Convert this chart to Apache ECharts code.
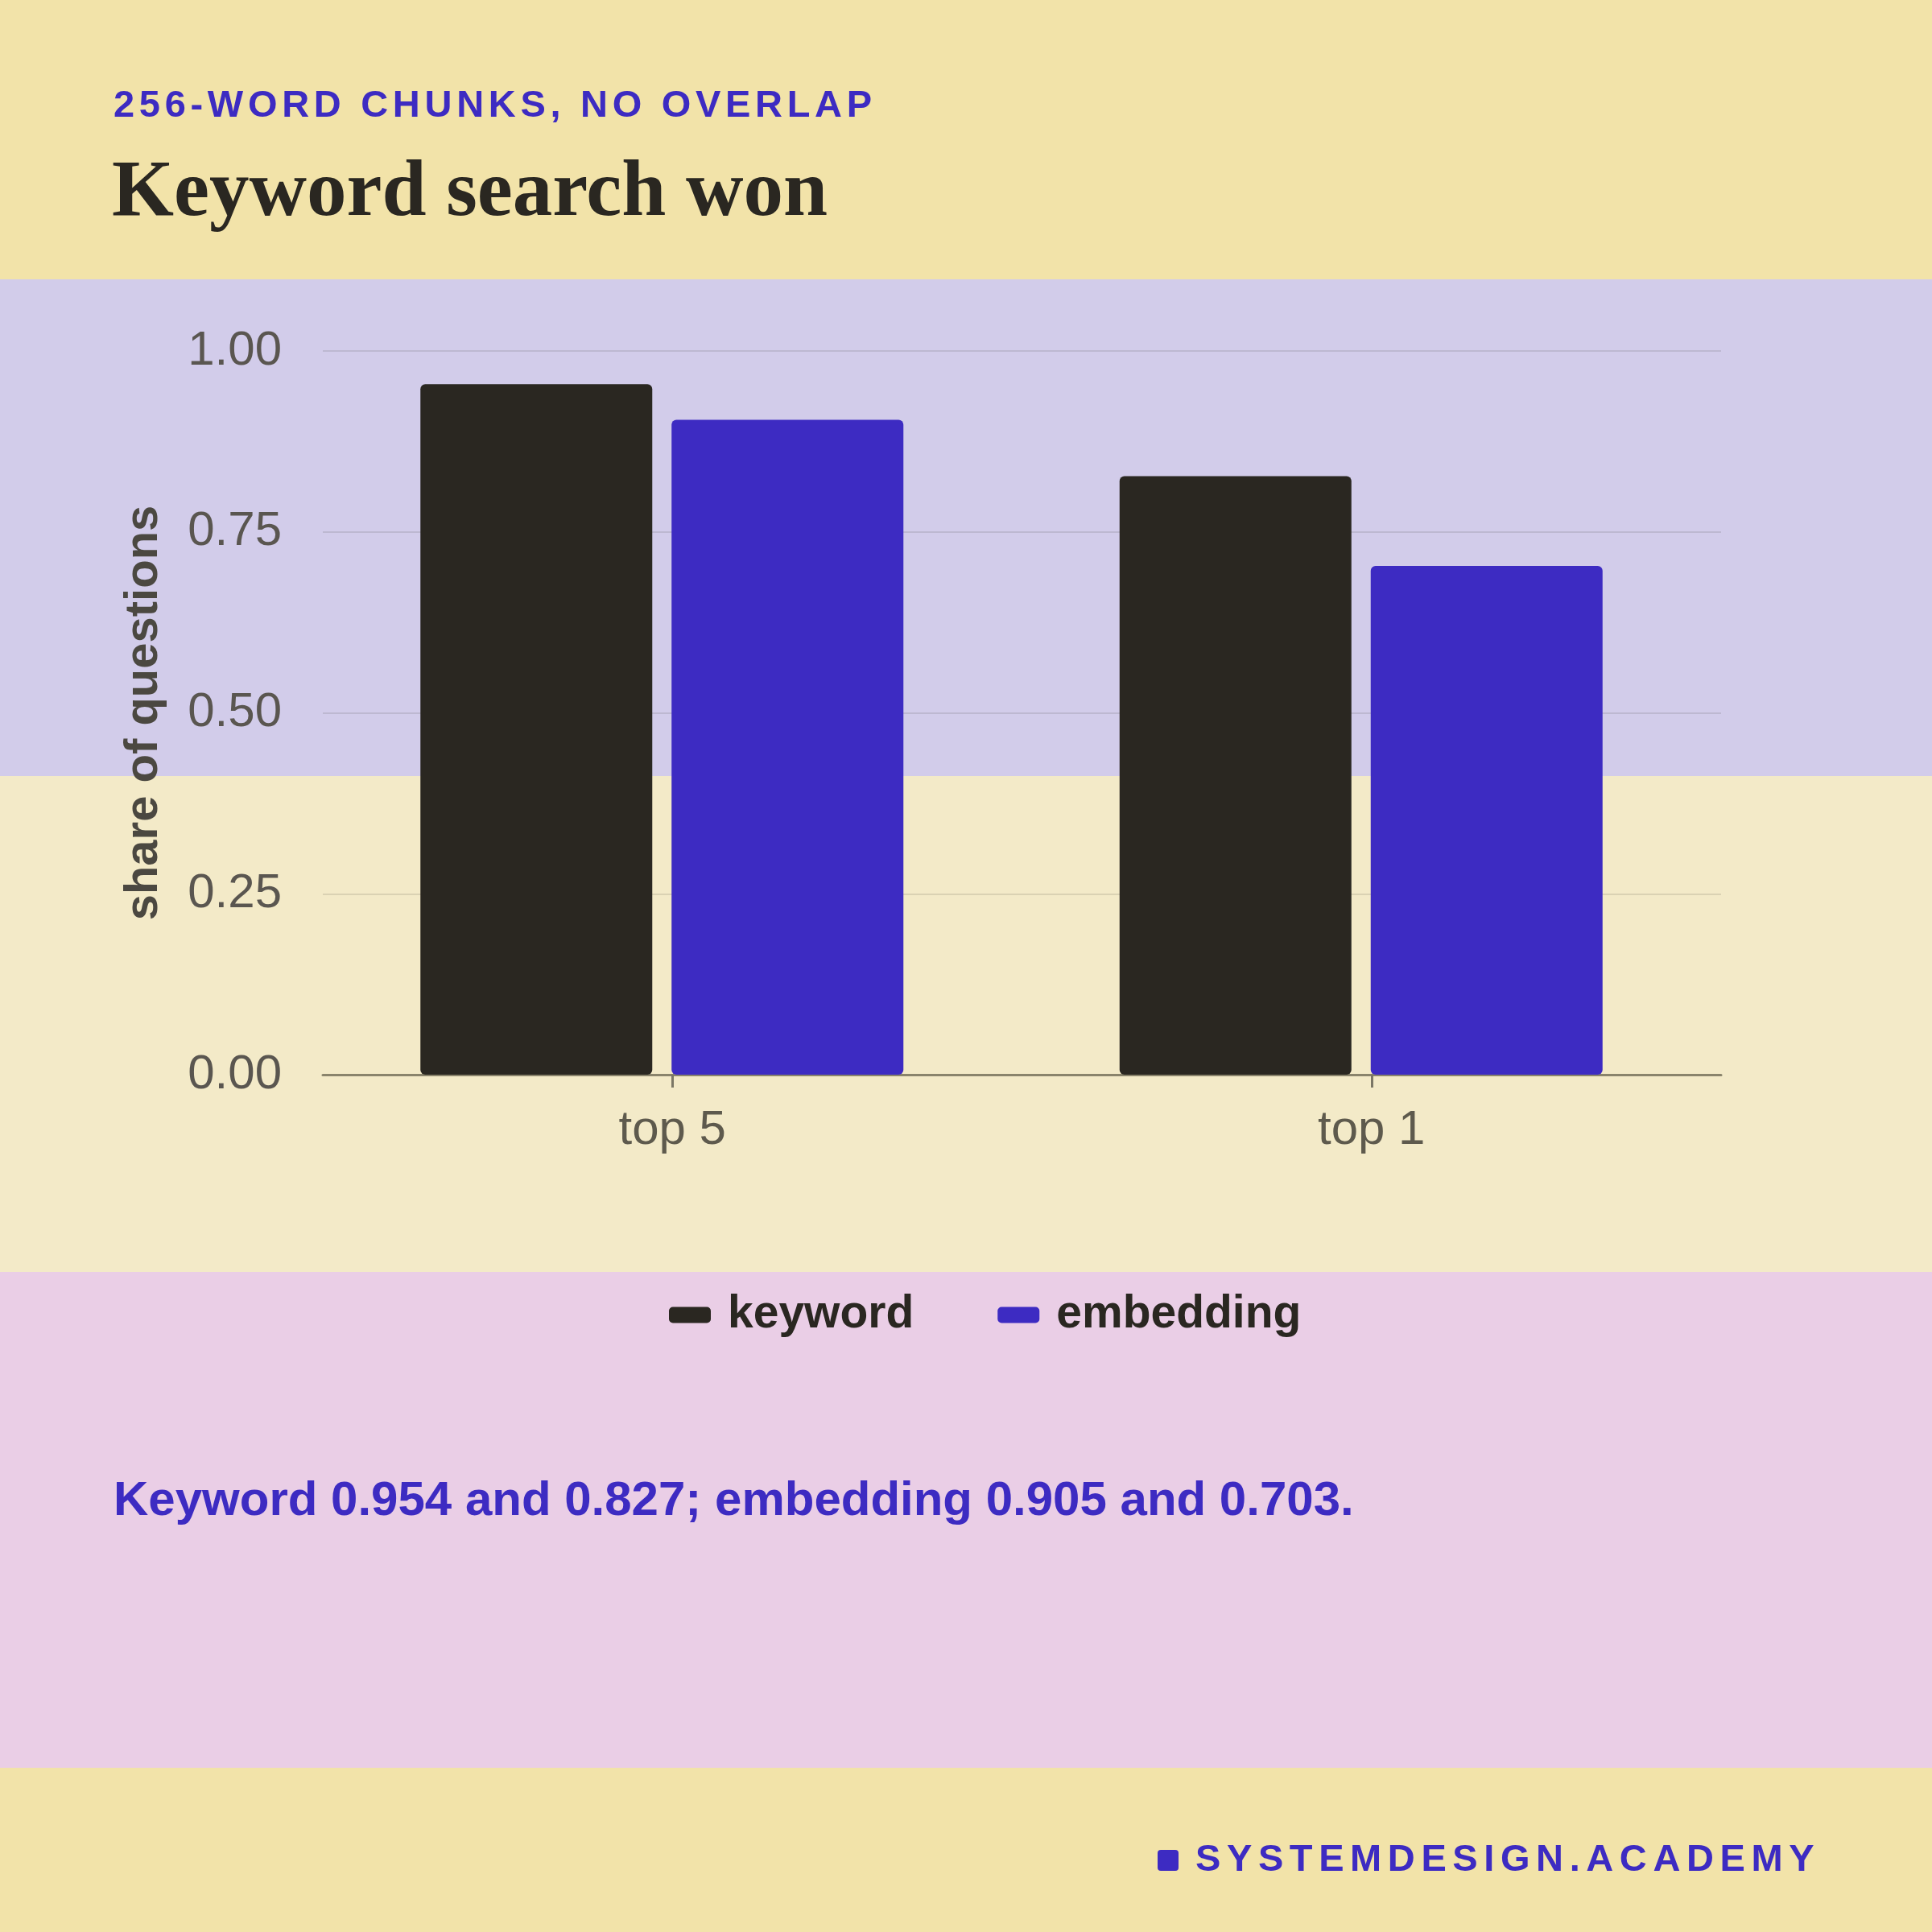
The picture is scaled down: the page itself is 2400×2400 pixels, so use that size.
<!DOCTYPE html>
<html>
<head>
<meta charset="utf-8">
<title>Keyword search won</title>
<script src="https://cdn.jsdelivr.net/npm/echarts@6/dist/echarts.min.js"></script>
<style>
  html, body { margin: 0; padding: 0; background: #f2e3a9; }
  #main { width: 2400px; height: 2400px; }
</style>
</head>
<body>
<div id="main"></div>
<script>
// data
var categories = ['top 5', 'top 1'];
var keywordValues = [0.954, 0.827];
var embeddingValues = [0.905, 0.703];
var seriesNames = ['keyword', 'embedding'];
var yMin = 0, yMax = 1, yStep = 0.25;

// texts
var kicker = '256-WORD CHUNKS, NO OVERLAP';
var headline = 'Keyword search won';
var note = 'Keyword 0.954 and 0.827; embedding 0.905 and 0.703.';
var footer = 'SYSTEMDESIGN.ACADEMY';

var ink = '#2a2721';
var blue = '#3d2bc2';

// tracked caps for the kicker and the footer: draw them glyph by glyph
// with extra space, all other text goes straight through
var tracking = {};
tracking[kicker] = 5.7;
tracking[footer] = 7.6;
var baseFillText = CanvasRenderingContext2D.prototype.fillText;
CanvasRenderingContext2D.prototype.fillText = function (t, x, y, w) {
  var gap = tracking[t];
  if (!gap || this.textAlign !== 'left') {
    return w === undefined ? baseFillText.call(this, t, x, y) : baseFillText.call(this, t, x, y, w);
  }
  for (var i = 0; i < t.length; i++) {
    baseFillText.call(this, t[i], x, y);
    x += this.measureText(t[i]).width + gap;
  }
};

var chart = echarts.init(document.getElementById('main'));

function band(y, h, color) {
  return { type: 'rect', z: -10, silent: true, shape: { x: 0, y: y, width: 2400, height: h }, style: { fill: color } };
}
function label(text, x, y, size, weight, family, color) {
  return {
    type: 'text', z: 10, silent: true,
    style: {
      text: text, x: x, y: y, fill: color,
      fontSize: size, fontWeight: weight, fontFamily: family,
      align: 'left', verticalAlign: 'middle'
    }
  };
}

var option = {
  animation: false,
  backgroundColor: '#f2e3a9',
  textStyle: { fontFamily: 'Liberation Sans' },
  graphic: {
    elements: [
      band(347, 617, '#d2ccea'),
      band(964, 616, '#f3eac8'),
      band(1580, 616, '#eacee6'),
      label(kicker, 141, 132, 47, 'bold', 'Liberation Sans', blue),
      label(headline, 139, 241, 99, 'bold', 'Liberation Serif', ink),
      label(note, 141, 1865, 60, 'bold', 'Liberation Sans', blue),
      {
        type: 'rect', z: 10, silent: true,
        shape: { x: 1438, y: 2298, width: 26, height: 26, r: 4 },
        style: { fill: blue }
      },
      label(footer, 1485, 2311, 47, 'bold', 'Liberation Sans', blue)
    ]
  },
  legend: {
    data: seriesNames,
    left: 831,
    top: 1605,
    padding: 0,
    icon: 'roundRect',
    itemWidth: 52,
    itemHeight: 20,
    itemGap: 104,
    textStyle: { fontSize: 57, fontWeight: 'bold', color: ink, padding: [0, 0, 16, 16] }
  },
  grid: { left: 401, right: 262, top: 436, bottom: 1065, outerBoundsMode: 'none' },
  xAxis: {
    type: 'category',
    data: categories,
    axisLine: { show: true, lineStyle: { color: '#8a846c', width: 3 } },
    axisTick: { show: true, alignWithLabel: true, interval: 0, length: 16, lineStyle: { color: '#7b7766', width: 3 } },
    axisLabel: { fontSize: 60, color: '#5e5a4d', margin: 39 },
    splitLine: { show: false }
  },
  yAxis: {
    type: 'value',
    min: yMin,
    max: yMax,
    interval: yStep,
    name: 'share of questions',
    nameLocation: 'middle',
    nameGap: 193,
    nameTextStyle: { fontSize: 58, fontWeight: 'bold', color: '#4b4841' },
    axisLine: { show: false },
    axisTick: { show: false },
    axisLabel: {
      fontSize: 60, color: '#5a5650', margin: 51,
      formatter: function (v) { return v.toFixed(2); }
    },
    splitLine: { lineStyle: { color: 'rgba(42,39,33,0.12)', width: 2 } }
  },
  series: [
    {
      name: seriesNames[0], type: 'bar', data: keywordValues,
      barWidth: 288, barGap: '8.33%',
      itemStyle: { color: ink, borderRadius: 6 }
    },
    {
      name: seriesNames[1], type: 'bar', data: embeddingValues,
      barWidth: 288, barGap: '8.33%',
      itemStyle: { color: blue, borderRadius: 6 }
    },
    // empty spacer: the source puts each pair a little left of its tick
    { name: 'spacer', type: 'bar', data: [], barWidth: 2, barGap: '8.33%', silent: true }
  ]
};

chart.setOption(option);
</script>
</body>
</html>
